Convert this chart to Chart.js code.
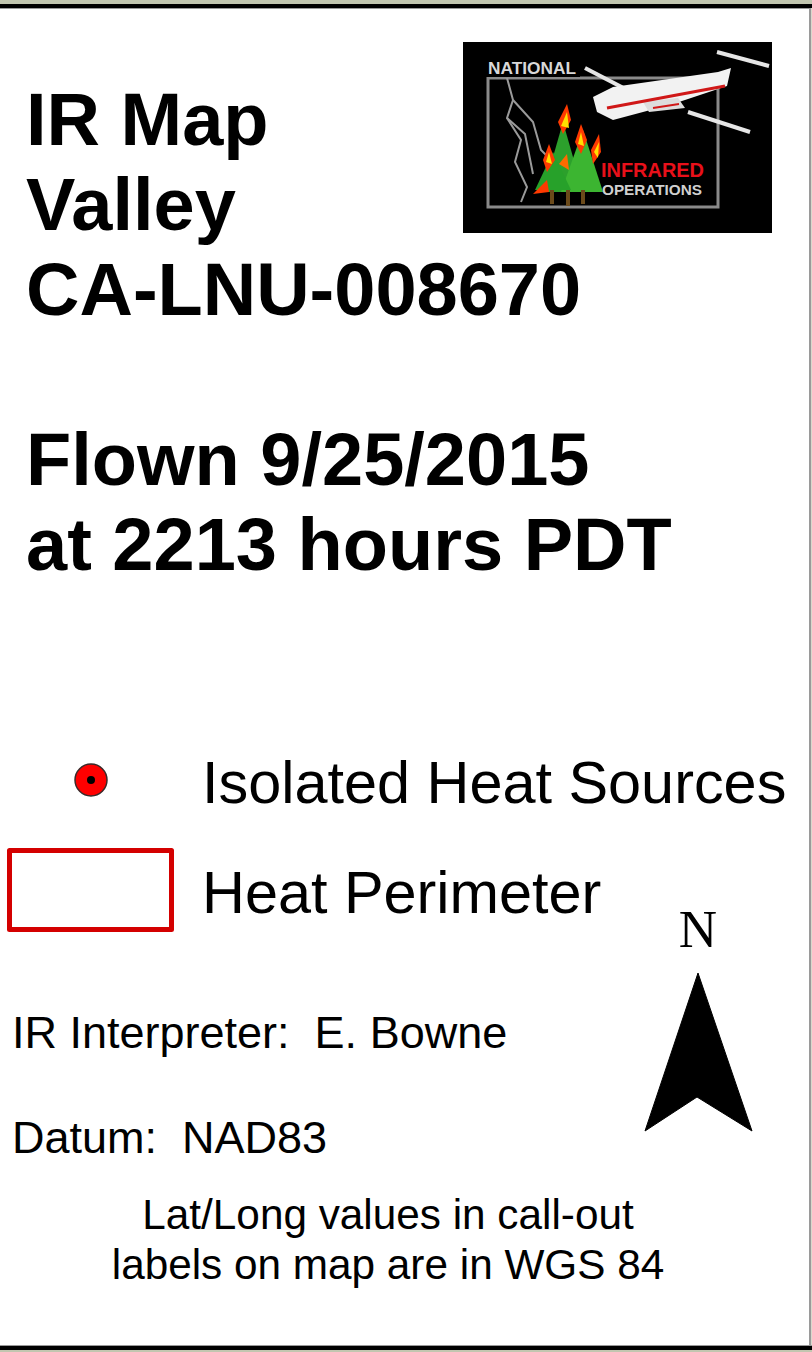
<!DOCTYPE html>
<html>
<head>
<meta charset="utf-8">
<script src="https://cdn.jsdelivr.net/npm/chart.js@4.4.1/dist/chart.umd.min.js"></script>
<style>
  html, body { margin: 0; padding: 0; background: #fff; }
  #wrap { position: relative; width: 812px; height: 1352px; overflow: hidden; background: #fff; }
  .t { position: absolute; white-space: pre; color: #000; font-family: "Liberation Sans", Arial, sans-serif; }
  .b { font-weight: bold; font-size: 74px; line-height: 74px; left: 26px; }
  .lg { font-size: 59.4px; line-height: 59px; left: 202px; }
  .info { font-size: 45px; line-height: 45px; left: 12px; }
  .note { font-size: 42.3px; line-height: 42px; left: 0; width: 776px; text-align: center; }
  .n { font-family: "Liberation Serif", "Times New Roman", serif; font-size: 53px; line-height: 53px; left: 598px; width: 200px; text-align: center; }
  #c { position: absolute; left: 0; top: 0; }
  .bar { position: absolute; left: 0; width: 812px; }
</style>
</head>
<body>
<div id="wrap">
  <div class="bar" style="top:0;height:4px;background:#c2c6b0;"></div>
  <div class="bar" style="top:4px;height:4px;background:#000;"></div>
  <div class="bar" style="top:8px;height:1px;background:#999;"></div>
  <div style="position:absolute;left:809px;top:8px;width:2px;height:1338px;background:#9a9a9a;"></div>
  <div style="position:absolute;left:811px;top:8px;width:1px;height:1338px;background:#d8d8cc;"></div>
  <div class="bar" style="top:1345px;height:1px;background:#999;"></div>
  <div class="bar" style="top:1346px;height:4px;background:#000;"></div>
  <div class="bar" style="top:1350px;height:2px;background:#c2c6b0;"></div>

  <!-- logo -->
  <svg style="position:absolute;left:463px;top:42px;" width="309" height="191" viewBox="0 0 309 191">
    <rect x="0" y="0" width="309" height="191" fill="#000"/>
    <rect x="25" y="36" width="230" height="129" fill="none" stroke="#8a8a8a" stroke-width="3"/>
    <rect x="22" y="16" width="95" height="19" fill="#000"/>
    <text x="25" y="32" font-family="Liberation Sans, Arial" font-weight="bold" font-size="17" fill="#d8d8d8" textLength="88" lengthAdjust="spacingAndGlyphs">NATIONAL</text>
    <polyline points="44,36 50,58 44,76 58,98 52,120 64,145 58,160" fill="none" stroke="#9a9a9a" stroke-width="2"/>
    <polyline points="50,58 70,80 78,108 90,120" fill="none" stroke="#9a9a9a" stroke-width="2"/>
    <polyline points="44,76 62,92 70,132" fill="none" stroke="#9a9a9a" stroke-width="2"/>
    <!-- trees -->
    <polygon points="100,80 80,150 120,150" fill="#2ca02c"/>
    <polygon points="120,88 98,150 140,150" fill="#3cb531"/>
    <polygon points="90,110 72,148 108,148" fill="#27a12a"/>
    <rect x="87" y="148" width="4" height="14" fill="#6b4a1a"/>
    <rect x="103" y="148" width="4" height="16" fill="#6b4a1a"/>
    <rect x="118" y="148" width="4" height="14" fill="#6b4a1a"/>
    <!-- flames -->
    <polygon points="95,80 104,62 108,78 100,92" fill="#ff3a00"/>
    <polygon points="98,84 104,70 106,86" fill="#ffe000"/>
    <polygon points="112,100 118,82 124,98 118,112" fill="#ff3a00"/>
    <polygon points="115,102 118,90 121,104" fill="#ffe000"/>
    <polygon points="128,108 136,92 138,110 130,122" fill="#ff3a00"/>
    <polygon points="131,110 136,100 135,116" fill="#ffe000"/>
    <polygon points="80,118 86,102 92,118 84,130" fill="#ff3a00"/>
    <polygon points="83,120 86,110 89,122" fill="#ffe000"/>
    <polygon points="70,152 84,138 86,150" fill="#ff3a00"/>
    <polygon points="96,122 104,112 106,128" fill="#ff6a00"/>
    <!-- plane -->
    <line x1="122" y1="26" x2="172" y2="52" stroke="#e6e6e6" stroke-width="4"/>
    <line x1="225" y1="70" x2="287" y2="90" stroke="#e6e6e6" stroke-width="4"/>
    <line x1="254" y1="10" x2="306" y2="24" stroke="#e6e6e6" stroke-width="4"/>
    <polygon points="130,55 150,45 255,30 268,26 264,44 210,62 150,78 134,70" fill="#f2f2f2"/>
    <polygon points="180,60 215,56 222,66 186,70" fill="#dddddd"/>
    <line x1="144" y1="66" x2="262" y2="44" stroke="#d01818" stroke-width="3"/>
    <line x1="190" y1="66" x2="216" y2="62" stroke="#d01818" stroke-width="2"/>
    <text x="138" y="135" font-family="Liberation Sans, Arial" font-weight="bold" font-size="20" fill="#e8101a" textLength="103" lengthAdjust="spacingAndGlyphs">INFRARED</text>
    <text x="139" y="153" font-family="Liberation Sans, Arial" font-weight="bold" font-size="14" fill="#d0d0d0" textLength="100" lengthAdjust="spacingAndGlyphs">OPERATIONS</text>
  </svg>

  <div id="texts"></div>
  <canvas id="c" width="812" height="1352"></canvas>
</div>
<script>
// ---- text content ----
const titleLines = ["IR Map", "Valley", "CA-LNU-008670"];
const flightLines = ["Flown 9/25/2015", "at 2213 hours PDT"];
const legendLabels = ["Isolated Heat Sources", "Heat Perimeter"];
const infoLines = ["IR Interpreter:  E. Bowne", "Datum:  NAD83"];
const noteLines = ["Lat/Long values in call-out", "labels on map are in WGS 84"];
const northLabel = ["N"];

// ---- legend symbol geometry (layout units of the panel) ----
const heatSourceX = [91];
const heatSourceY = [780];
const perimeterX = [9.5, 171.5, 171.5, 9.5, 9.5];
const perimeterY = [850.5, 850.5, 929.5, 929.5, 850.5];
const arrowX = [698, 752, 697, 645, 698];
const arrowY = [973, 1131, 1097, 1131, 973];

// ---- text layout ----
const holder = document.getElementById('texts');
function addLine(cls, txt, baseline, F, asc) {
  const d = document.createElement('div');
  d.className = 't ' + cls;
  d.textContent = txt;
  d.style.top = (baseline - asc * F) + 'px';
  holder.appendChild(d);
}
const sansOff = 0.8465, serifOff = 0.8375;
[146, 231, 316].forEach((b, i) => addLine('b', titleLines[i], b, 74, sansOff));
[486, 571].forEach((b, i) => addLine('b', flightLines[i], b, 74, sansOff));
[803, 913].forEach((b, i) => addLine('lg', legendLabels[i], b, 59, sansOff));
[1048, 1153].forEach((b, i) => addLine('info', infoLines[i], b, 45, sansOff));
[1230, 1280].forEach((b, i) => addLine('note', noteLines[i], b, 42, sansOff));
addLine('n', northLabel[0], 947, 53, serifOff);

// ---- symbols drawn through Chart.js scales ----
const zip = (xs, ys) => xs.map((x, i) => ({ x: x, y: ys[i] }));
new Chart(document.getElementById('c'), {
  type: 'scatter',
  data: {
    datasets: [
      {
        label: 'Heat Source Center',
        data: zip(heatSourceX, heatSourceY),
        pointStyle: 'circle',
        pointRadius: 4,
        backgroundColor: '#000',
        borderColor: '#000',
        borderWidth: 0,
        clip: false
      },
      {
        label: 'Isolated Heat Sources',
        data: zip(heatSourceX, heatSourceY),
        pointStyle: 'circle',
        pointRadius: 16,
        backgroundColor: '#ff0000',
        borderColor: '#3a2a2a',
        borderWidth: 1.5,
        clip: false
      },
      {
        label: 'Heat Perimeter',
        data: zip(perimeterX, perimeterY),
        showLine: true,
        borderColor: '#d40000',
        borderWidth: 5,
        borderJoinStyle: 'round',
        borderCapStyle: 'round',
        pointRadius: 0,
        fill: false,
        tension: 0,
        clip: false
      },
      {
        label: 'North Arrow',
        data: zip(arrowX, arrowY),
        showLine: true,
        borderColor: '#000',
        borderWidth: 1,
        backgroundColor: '#000',
        pointRadius: 0,
        fill: 'shape',
        tension: 0,
        clip: false
      }
    ]
  },
  options: {
    responsive: false,
    animation: false,
    events: [],
    layout: { padding: 0, autoPadding: false },
    plugins: { legend: { display: false }, tooltip: { enabled: false }, title: { display: false } },
    scales: {
      x: { type: 'linear', min: 0, max: 812, display: false },
      y: { type: 'linear', min: 0, max: 1352, reverse: true, display: false }
    }
  }
});
</script>
</body>
</html>
